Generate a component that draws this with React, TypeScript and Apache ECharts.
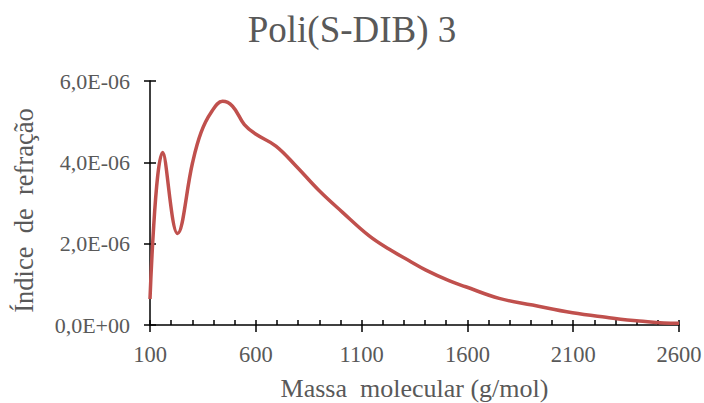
import React, { useEffect, useRef } from "react";
import * as echarts from "echarts";

const massa: number[] = [100, 160, 230, 301, 341, 388, 443, 490, 546, 601, 695, 790, 900, 1010, 1136, 1231, 1325, 1404, 1513, 1592, 1750, 1908, 2097, 2255, 2412, 2592, 2600];
const indice: number[] = [0.64e-6, 4.24e-6, 2.25e-6, 3.99e-6, 4.73e-6, 5.22e-6, 5.5e-6, 5.38e-6, 4.93e-6, 4.69e-6, 4.4e-6, 3.91e-6, 3.3e-6, 2.77e-6, 2.19e-6, 1.86e-6, 1.58e-6, 1.35e-6, 1.09e-6, 0.94e-6, 0.655e-6, 0.49e-6, 0.3e-6, 0.19e-6, 0.098e-6, 0.04e-6, 0.04e-6];

const FONT = "'Liberation Serif', serif";
const GRAY = "#595959";

function fmtSci(v: number): string {
  if (Math.abs(v) < 1e-15) return "0,0E+00";
  const e = Math.floor(Math.log10(Math.abs(v)) + 1e-9);
  const m = v / Math.pow(10, e);
  const es = (e < 0 ? "-" : "+") + String(Math.abs(e)).padStart(2, "0");
  return m.toFixed(1).replace(".", ",") + "E" + es;
}

export default function App() {
  const ref = useRef<HTMLDivElement>(null);
  useEffect(() => {
    if (!ref.current) return;
    const chart = echarts.init(ref.current, null, { renderer: "svg" });
    const data = massa.map((x, i) => [x, indice[i]]);
    const xBase = { type: "value", min: 100, max: 2600, interval: 500, position: "bottom", splitLine: { show: false } };
    const yBase = { type: "value", min: 0, max: 6e-6, interval: 2e-6, position: "left", splitLine: { show: false } };
    const tickLine = { color: "#000", width: 1.5 };
    chart.setOption({
      animation: false,
      backgroundColor: "#fff",
      title: {
        text: "Poli(S-DIB) 3",
        left: "center",
        top: 6,
        textStyle: { fontFamily: FONT, fontSize: 37, fontWeight: "normal", color: GRAY },
      },
      grid: { left: 150, right: 25, top: 81, bottom: 78, containLabel: false, outerBoundsMode: "none" },
      xAxis: [
        {
          ...xBase,
          name: "Massa  molecular (g/mol)",
          nameLocation: "middle",
          nameGap: 50,
          nameTextStyle: { fontFamily: FONT, fontSize: 26, color: GRAY },
          axisLine: { show: true, lineStyle: { color: "#000", width: 1.5 } },
          axisTick: { show: true, inside: false, length: 7, lineStyle: tickLine },
          axisLabel: { fontFamily: FONT, fontSize: 22.5, color: GRAY, margin: 18, formatter: (v: number) => String(v) },
        },
        {
          ...xBase,
          axisLine: { show: false },
          axisTick: { show: true, inside: true, length: 5, lineStyle: tickLine },
          minorTick: { show: true, splitNumber: 5, length: 5, lineStyle: tickLine },
          axisLabel: { show: false },
        },
      ],
      yAxis: [
        {
          ...yBase,
          name: "Índice  de  refração",
          nameLocation: "middle",
          nameGap: 113,
          nameRotate: 90,
          nameTextStyle: { fontFamily: FONT, fontSize: 26.5, color: GRAY, padding: [0, 15, 0, 0] },
          axisLine: { show: true, lineStyle: { color: "#000", width: 1.5 } },
          axisTick: { show: true, inside: false, length: 6, lineStyle: tickLine },
          axisLabel: { fontFamily: FONT, fontSize: 22, color: GRAY, margin: 20, formatter: fmtSci },
        },
        {
          ...yBase,
          axisLine: { show: false },
          axisTick: { show: true, inside: true, length: 6, lineStyle: tickLine },
          axisLabel: { show: false },
        },
      ],
      series: [
        {
          type: "line",
          data,
          xAxisIndex: 0,
          yAxisIndex: 0,
          smooth: 0.4,
          showSymbol: false,
          symbol: "none",
          lineStyle: { color: "#C0504D", width: 3.5 },
        },
      ],
    });
    return () => chart.dispose();
  }, []);
  return <div ref={ref} style={{ position: "fixed", left: 0, top: 0, width: 704, height: 403 }} />;
}
